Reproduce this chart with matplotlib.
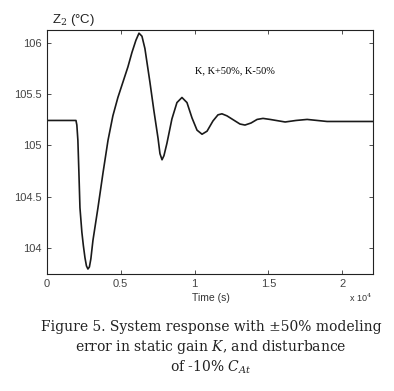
import matplotlib.pyplot as plt

plt.rcParams['mathtext.fontset'] = 'dejavuserif'

# time (x 10^4 s) and Z2 temperature
time = [0.0, 0.197, 0.203, 0.21, 0.217, 0.224, 0.237, 0.247, 0.258, 0.268,
        0.278, 0.288, 0.298, 0.312, 0.346, 0.380, 0.414, 0.447, 0.481, 0.515,
        0.549, 0.576, 0.603, 0.624, 0.644, 0.664, 0.698, 0.725, 0.753, 0.766,
        0.780, 0.793, 0.813, 0.847, 0.881, 0.915, 0.949, 0.983, 1.017, 1.051,
        1.085, 1.125, 1.159, 1.186, 1.220, 1.275, 1.308, 1.342, 1.383, 1.424,
        1.464, 1.512, 1.614, 1.688, 1.763, 1.898, 2.21]
z2 = [105.245, 105.245, 105.20, 105.05, 104.73, 104.39, 104.15, 104.02, 103.90, 103.82,
      103.79, 103.81, 103.89, 104.07, 104.39, 104.73, 105.05, 105.29, 105.47, 105.62,
      105.77, 105.91, 106.03, 106.10, 106.07, 105.95, 105.62, 105.34, 105.07, 104.92,
      104.86, 104.90, 105.02, 105.26, 105.42, 105.47, 105.42, 105.27, 105.15, 105.11,
      105.14, 105.24, 105.30, 105.31, 105.29, 105.24, 105.21, 105.20, 105.22, 105.255,
      105.265, 105.255, 105.23, 105.245, 105.255, 105.235, 105.235]

xticks = [0, 0.5, 1, 1.5, 2]
xticklabels = ['0', '0.5', '1', '1.5', '2']
yticks = [104, 104.5, 105, 105.5, 106]
yticklabels = ['104', '104.5', '105', '105.5', '106']

fig = plt.figure(figsize=(3.94, 3.91), dpi=100)
ax = fig.add_axes([0.119, 0.299, 0.828, 0.624])

ax.plot(time, z2, color='#1a1a1a', lw=1.2, solid_joinstyle='round')

ax.set_xlim(0, 2.21)
ax.set_ylim(103.74, 106.13)
ax.set_xticks(xticks)
ax.set_xticklabels(xticklabels)
ax.set_yticks(yticks)
ax.set_yticklabels(yticklabels)
ax.tick_params(direction='in', length=3, width=0.6, top=True, right=True,
               labelsize=8, colors='#333333', labelcolor='#444444')
for lab in ax.get_xticklabels() + ax.get_yticklabels():
    lab.set_family('Liberation Sans')
for s in ax.spines.values():
    s.set_linewidth(0.8)
    s.set_color('#222222')

ax.text(1.0, 105.71, 'K, K+50%, K-50%', family='Liberation Serif', fontsize=7.5)

fig.text(52 / 394, 1 - 20 / 391, 'Z$_2$ (°C)', family='Liberation Sans',
         fontsize=9.5, va='center', ha='left', color='#222222')
fig.text(211 / 394, 1 - 298 / 391, 'Time (s)', family='Liberation Sans',
         fontsize=7.5, va='center', ha='center', color='#333333')
fig.text(372 / 394, 1 - 298 / 391, 'x 10$^4$', family='Liberation Sans',
         fontsize=6.5, va='center', ha='right', color='#333333')

caption = ['Figure 5. System response with \u00b150% modeling',
           'error in static gain $K$, and disturbance',
           'of -10% $C_{At}$']
for i, line in enumerate(caption):
    fig.text(211 / 394, 1 - (327 + 20 * i) / 391, line, family='DejaVu Serif',
             fontsize=10, ha='center', va='center', color='#222222')

fig.savefig('out.png', dpi=100)
